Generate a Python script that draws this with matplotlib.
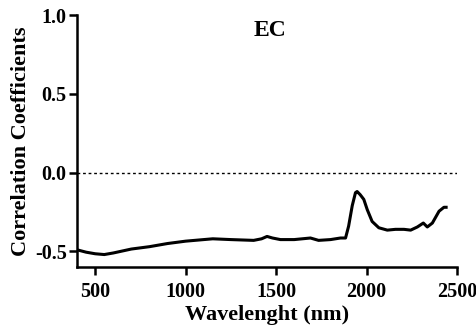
import matplotlib
matplotlib.use('Agg')
import matplotlib.pyplot as plt
import numpy as np

# spectrum
wavelength = [400, 450, 500, 550, 600, 700, 800, 900, 1000, 1100, 1150, 1250, 1376, 1420,
              1450, 1480, 1524, 1600, 1690, 1735, 1801, 1856, 1884, 1901, 1921, 1939, 1948,
              1965, 1985, 2004, 2031, 2068, 2115, 2160, 2207, 2244, 2281, 2314, 2336, 2364,
              2401, 2428, 2440]
corr = [-0.49, -0.505, -0.515, -0.52, -0.51, -0.485, -0.47, -0.45, -0.435, -0.425, -0.42,
        -0.425, -0.43, -0.42, -0.405, -0.415, -0.425, -0.425, -0.415, -0.43, -0.425, -0.415,
        -0.415, -0.34, -0.21, -0.127, -0.12, -0.14, -0.17, -0.235, -0.31, -0.35, -0.365,
        -0.36, -0.36, -0.365, -0.345, -0.32, -0.345, -0.32, -0.245, -0.22, -0.22]

x_ticks = [500, 1000, 1500, 2000, 2500]
y_ticks = [-0.5, 0.0, 0.5, 1.0]

plt.rcParams['font.family'] = ['Liberation Serif', 'DejaVu Serif']
plt.rcParams['font.weight'] = 'bold'

fig = plt.figure(figsize=(4.76, 3.27), dpi=100)
ax = fig.add_axes([0.162, 0.183, 0.798, 0.771])

ax.plot(wavelength, corr, color='black', linewidth=2.2)
ax.axhline(0, color='black', linestyle=(0, (2, 2)), linewidth=1)

ax.set_xlim(400, 2500)
ax.set_ylim(-0.6, 1.0)
ax.set_xticks(x_ticks)
ax.set_yticks(y_ticks)
ax.set_yticklabels([f'{v:.1f}' for v in y_ticks])

ax.spines['top'].set_visible(False)
ax.spines['right'].set_visible(False)
for s in ('left', 'bottom'):
    ax.spines[s].set_linewidth(1.8)
ax.tick_params(width=1.8, length=5.5, labelsize=14.5, pad=2)
ax.tick_params(axis='x', pad=5)
for lab in ax.get_xticklabels() + ax.get_yticklabels():
    lab.set_fontweight('bold')

ax.set_xlabel('Wavelenght (nm)', fontsize=16, fontweight='bold', labelpad=2)
ax.set_ylabel('Correlation Coefficients', fontsize=16, fontweight='bold', labelpad=3)
ax.text(0.508, 0.937, 'EC', transform=ax.transAxes, fontsize=17, fontweight='bold',
        ha='center', va='center')

fig.savefig('out.png', dpi=100)
